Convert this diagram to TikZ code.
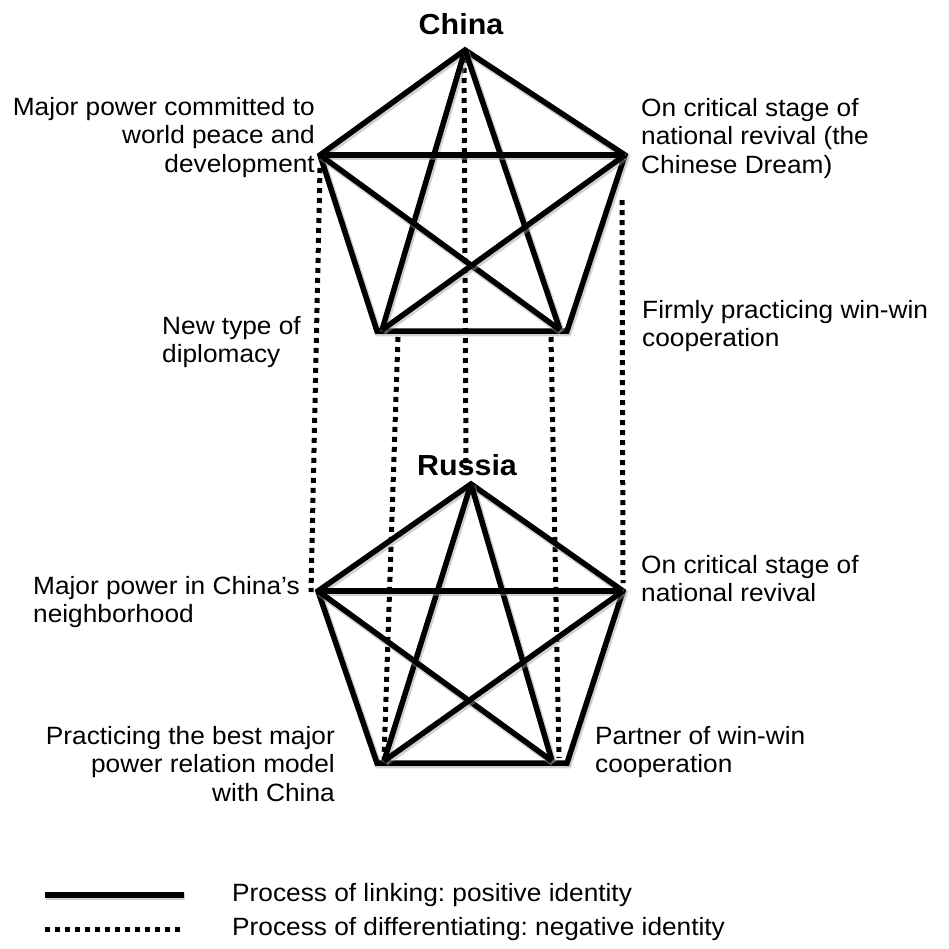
\documentclass[tikz,border=0pt]{standalone}
\usepackage{fontspec}
\setmainfont{Liberation Sans}[FakeStretch=1.05]
\frenchspacing
\begin{document}
\begin{tikzpicture}[x=1pt,y=-1pt,
  linkline/.style={line width=5.5pt, black, line cap=butt,
    preaction={draw=black!40, opacity=0.45, line width=7pt,
      transform canvas={shift={(1.2pt,-1.8pt)}}}},
  diffline/.style={line width=5pt, black, dash pattern=on 5pt off 5pt},
  lbl/.style={inner sep=0pt, font=\fontsize{25}{28.5}\selectfont},
  ttl/.style={inner sep=0pt, font=\fontsize{29}{32}\selectfont\bfseries}]
\useasboundingbox (0,0) rectangle (949,948);
% China pentagon
\coordinate (cT) at (465,50);
\coordinate (cL) at (320,155);
\coordinate (cR) at (625,155);
\coordinate (cBL) at (377,331);
\coordinate (cBR) at (567,331);
\coordinate (cSL) at (382,330);
\coordinate (cSR) at (560,330);
% Russia pentagon
\coordinate (rT) at (471,484);
\coordinate (rL) at (318,591);
\coordinate (rR) at (623,591);
\coordinate (rBL) at (377,763);
\coordinate (rBR) at (567,763);
\coordinate (rSL) at (384,761);
\coordinate (rSR) at (552,761);
% dotted end points
\coordinate (d1a) at (320,168);
\coordinate (d1b) at (311,592);
\coordinate (d2a) at (464,58);
\coordinate (d2b) at (466,470);
\coordinate (d3a) at (398,337);
\coordinate (d3b) at (384,758);
\coordinate (d4a) at (551,337);
\coordinate (d4b) at (559,758);
\coordinate (d5a) at (622,200);
\coordinate (d5b) at (623,583);
% dotted (differentiating) lines
\draw[diffline] (d1a) -- (d1b);
\draw[diffline] (d2a) -- (d2b);
\draw[diffline] (d3a) -- (d3b);
\draw[diffline] (d4a) -- (d4b);
\draw[diffline] (d5a) -- (d5b);
% China figure
\draw[linkline] (cT) -- (cR) -- (cBR) -- (cBL) -- (cL) -- cycle;
\draw[linkline] (cT) -- (cSL);
\draw[linkline] (cT) -- (cSR);
\draw[linkline] (cL) -- (cR);
\draw[linkline] (cL) -- (cSR);
\draw[linkline] (cR) -- (cSL);
% Russia figure
\draw[linkline] (rT) -- (rR) -- (rBR) -- (rBL) -- (rL) -- cycle;
\draw[linkline] (rT) -- (rSL);
\draw[linkline] (rT) -- (rSR);
\draw[linkline] (rL) -- (rR);
\draw[linkline] (rL) -- (rSR);
\draw[linkline] (rR) -- (rSL);
% titles
\node[ttl, anchor=north] (china) at (461,13) {China};
\node[ttl, anchor=north] (russia) at (467,454) {Russia};
% labels
\node[lbl, anchor=north east, align=right] (l1) at (315,97)
  {Major power committed to\\world peace and\\development};
\node[lbl, anchor=north west, align=left] (l2) at (641,98)
  {On critical stage of\\national revival (the\\Chinese Dream)};
\node[lbl, anchor=north west, align=left] (l3) at (162,316)
  {New type of\\diplomacy};
\node[lbl, anchor=north west, align=left] (l4) at (642,300)
  {Firmly practicing win-win\\cooperation};
\node[lbl, anchor=north west, align=left] (l5) at (33,576)
  {Major power in China’s\\neighborhood};
\node[lbl, anchor=north west, align=left] (l6) at (641,555)
  {On critical stage of\\national revival};
\node[lbl, anchor=north east, align=right] (l7) at (335,726)
  {Practicing the best major\\power relation model\\with China};
\node[lbl, anchor=north west, align=left] (l8) at (595,726)
  {Partner of win-win\\cooperation};
% legend
\coordinate (g1a) at (45,895);
\coordinate (g1b) at (184,895);
\coordinate (g2a) at (45,929);
\coordinate (g2b) at (184,929);
\draw[linkline] (g1a) -- (g1b);
\draw[diffline] (g2a) -- (g2b);
\node[lbl, anchor=north west] (t1) at (232,883) {Process of linking: positive identity};
\node[lbl, anchor=north west] (t2) at (232,917) {Process of differentiating: negative identity};
\end{tikzpicture}
\end{document}
